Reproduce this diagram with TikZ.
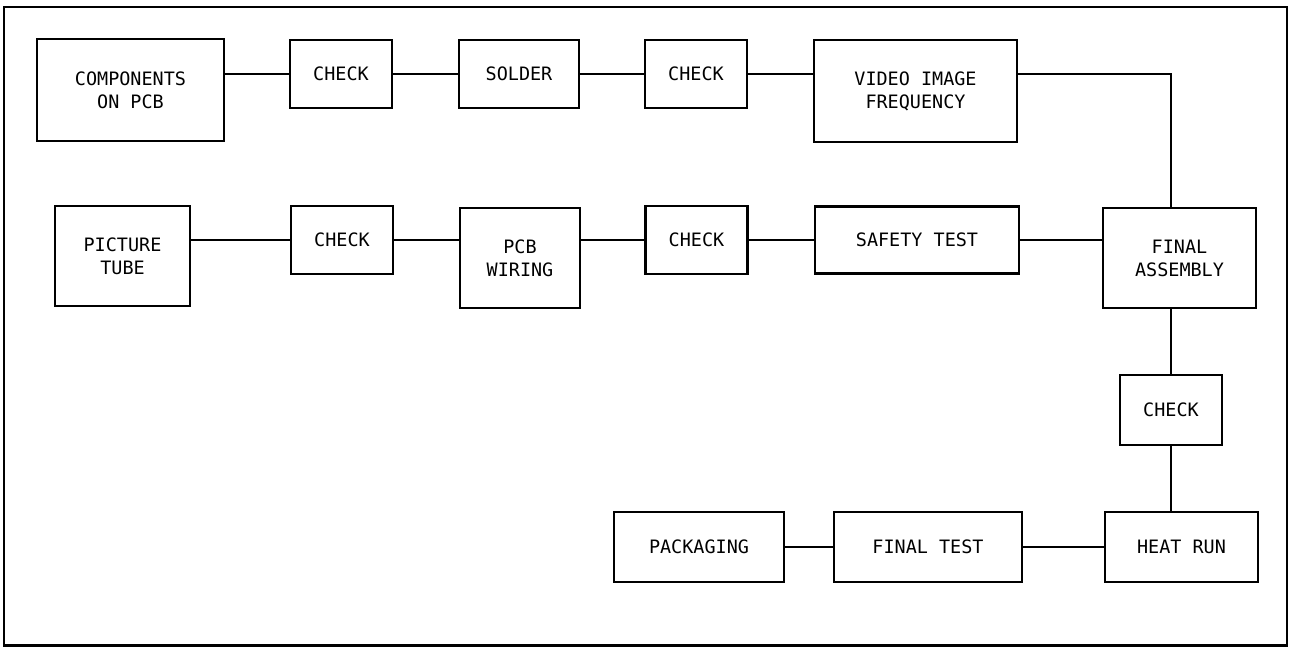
\documentclass[tikz,border=0pt]{standalone}
\usepackage{fontspec}
\setmonofont{DejaVu Sans Mono}
\usetikzlibrary{positioning}

\begin{document}
\begin{tikzpicture}[
    stage/.style={draw, line width=1.5pt, align=center, inner sep=0pt, font=\ttfamily\fontsize{10.5}{13}\selectfont},
    checkbox/.style={stage, minimum width=2.04cm, minimum height=1.36cm},
    link/.style={line width=1.3pt}
  ]
  \useasboundingbox (0,0) rectangle (25.96,12.96);
  \draw[line width=1.2pt] (0.08,0.05) rectangle (25.74,12.82);

  % top row
  \node[stage, minimum width=3.74cm, minimum height=2.04cm] (comp) at (2.61,11.16) {COMPONENTS\\ON PCB};
  \node[checkbox] (chk1) at (6.82,11.48) {CHECK};
  \node[stage, minimum width=2.4cm, minimum height=1.36cm] (solder) at (10.38,11.48) {SOLDER};
  \node[checkbox] (chk2) at (13.92,11.48) {CHECK};
  \node[stage, minimum width=4.06cm, minimum height=2.04cm] (video) at (18.31,11.14) {VIDEO IMAGE\\FREQUENCY};

  % second row
  \node[stage, minimum width=2.7cm, minimum height=2cm] (tube) at (2.45,7.84) {PICTURE\\TUBE};
  \node[checkbox] (chk3) at (6.84,8.16) {CHECK};
  \node[stage, minimum width=2.4cm, minimum height=2cm] (wiring) at (10.4,7.8) {PCB\\WIRING};
  \node[checkbox] (chk4) at (13.93,8.16) {CHECK};
  \node[stage, minimum width=4.08cm, minimum height=1.34cm] (safety) at (18.34,8.16) {SAFETY TEST};
  \node[stage, minimum width=3.06cm, minimum height=2cm] (final) at (23.59,7.8) {FINAL\\ASSEMBLY};

  % down and back along the bottom
  \node[checkbox, minimum height=1.4cm] (chk5) at (23.42,4.76) {CHECK};
  \node[stage, minimum width=3.06cm, minimum height=1.4cm] (heat) at (23.63,2.02) {HEAT RUN};
  \node[stage, minimum width=3.76cm, minimum height=1.4cm] (ftest) at (18.56,2.02) {FINAL TEST};
  \node[stage, minimum width=3.4cm, minimum height=1.4cm] (pack) at (13.98,2.02) {PACKAGING};

  \draw[link] (comp.east |- chk1) -- (chk1);
  \draw[link] (chk1) -- (solder);
  \draw[link] (solder) -- (chk2);
  \draw[link] (chk2) -- (video.west |- chk2);
  \draw[link] (video.east |- chk2) -| (final.north -| chk5);

  \draw[link] (tube.east |- chk3) -- (chk3);
  \draw[link] (chk3) -- (wiring.west |- chk3);
  \draw[link] (wiring.east |- chk3) -- (chk4);
  \draw[link] (chk4) -- (safety);
  \draw[link] (safety) -- (final.west |- safety);

  \draw[link] (final.south -| chk5) -- (chk5);
  \draw[link] (chk5) -- (heat.north -| chk5);
  \draw[link] (heat) -- (ftest);
  \draw[link] (ftest) -- (pack);
\end{tikzpicture}
\end{document}
